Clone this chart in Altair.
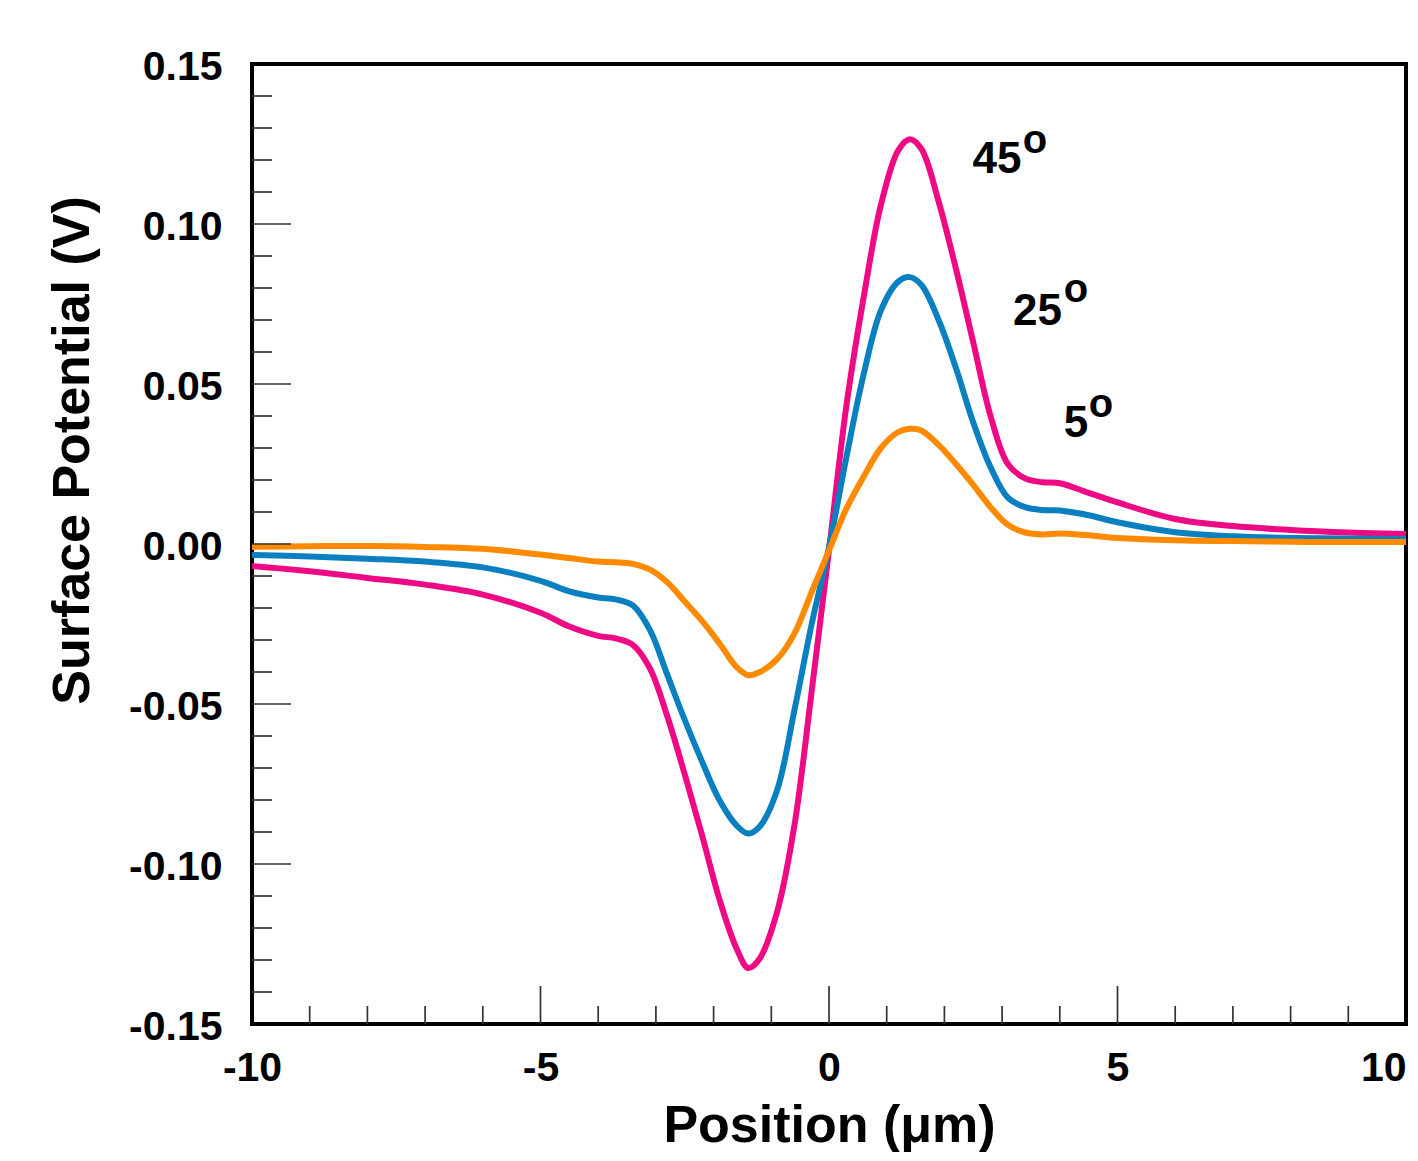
import altair as alt
import pandas as pd

# ---- data ----
xs = [-10, -9, -8, -7, -6, -5, -4.5, -4, -3.7, -3.4, -3.1, -2.8, -2.5, -2.2, -1.9, -1.6,
      -1.4, -1.2, -0.9, -0.6, -0.3, 0, 0.3, 0.6, 0.9, 1.2, 1.4, 1.6, 1.9, 2.2, 2.5, 2.8,
      3.1, 3.4, 3.7, 4.0, 4.5, 5, 6, 7, 8, 9, 10]

pink_45 = [-0.0069, -0.0085, -0.0106, -0.0127, -0.0158, -0.0215, -0.0258, -0.0287, -0.0295,
           -0.0315, -0.039, -0.054, -0.072, -0.091, -0.111, -0.1265, -0.1325, -0.1295, -0.115,
           -0.088, -0.046, -0.002, 0.043, 0.077, 0.106, 0.123, 0.1265, 0.1235, 0.107, 0.086,
           0.063, 0.040, 0.025, 0.0205, 0.0193, 0.019, 0.016, 0.013, 0.0078, 0.0056, 0.0044,
           0.0036, 0.0031]

blue_25 = [-0.0034, -0.0039, -0.0046, -0.0055, -0.0073, -0.0115, -0.0148, -0.0167, -0.0173,
           -0.0192, -0.027, -0.041, -0.055, -0.068, -0.080, -0.088, -0.0905, -0.0883, -0.077,
           -0.052, -0.025, -0.001, 0.027, 0.053, 0.073, 0.082, 0.0834, 0.081, 0.070, 0.055,
           0.038, 0.024, 0.0145, 0.0115, 0.0106, 0.0105, 0.009, 0.0068, 0.0037, 0.0024,
           0.0019, 0.0017, 0.0016]

orange_5 = [-0.0009, -0.0007, -0.0006, -0.0009, -0.0015, -0.0033, -0.0044, -0.0055, -0.0057,
            -0.0062, -0.008, -0.012, -0.018, -0.024, -0.031, -0.0385, -0.041, -0.0400, -0.036,
            -0.028, -0.015, -0.002, 0.011, 0.021, 0.030, 0.035, 0.036, 0.0355, 0.031, 0.025,
            0.0185, 0.0115, 0.0060, 0.0036, 0.0030, 0.0033, 0.0027, 0.0019, 0.0012, 0.0009,
            0.0007, 0.0006, 0.0006]

series_names = ["45°", "25°", "5°"]
series_colors = ["#EE0A84", "#0A80C0", "#FF8A00"]

label_text = ["45", "25", "5"]
label_x = [2.912, 3.614, 4.281]
label_y = [0.1158, 0.0684, 0.0335]
sup_text = ["o", "o", "o"]
sup_x = [3.570, 4.281, 4.714]
sup_y = [0.1221, 0.0757, 0.0398]

x_major_ticks = [-5, 0, 5]
x_minor_ticks = [-9, -8, -7, -6, -4, -3, -2, -1, 1, 2, 3, 4, 6, 7, 8, 9]
y_major_ticks = [-0.10, -0.05, 0.0, 0.05, 0.10]
y_minor_ticks = [-0.14, -0.13, -0.12, -0.11, -0.09, -0.08, -0.07, -0.06, -0.04, -0.03,
                 -0.02, -0.01, 0.01, 0.02, 0.03, 0.04, 0.06, 0.07, 0.08, 0.09, 0.11,
                 0.12, 0.13, 0.14]

x_label_values = [-10, -5, 0, 5, 10]
y_label_values = [-0.15, -0.10, -0.05, 0.0, 0.05, 0.10, 0.15]

# ---- tables ----
rows = []
for name, vals in zip(series_names, [pink_45, blue_25, orange_5]):
    for x, v in zip(xs, vals):
        rows.append({"x": x, "v": v, "series": name})
df = pd.DataFrame(rows)

lab_df = pd.DataFrame({"x": label_x, "v": label_y, "t": label_text})
sup_df = pd.DataFrame({"x": sup_x, "v": sup_y, "t": sup_text})

W, H = 1154, 960
FONT = "Liberation Sans"

xscale = alt.Scale(domain=[-10, 10], nice=False, zero=False)
yscale = alt.Scale(domain=[-0.15, 0.15], nice=False, zero=False)

x_axis = alt.Axis(values=x_label_values, ticks=False, domain=False, grid=False,
                  labelExpr="datum.value + ''", labelFontSize=41, labelFont=FONT,
                  labelFontWeight="bold", labelColor="black", labelPadding=24,
                  labelAlign={"condition": {"test": "datum.value >= 10", "value": "right"},
                              "value": "center"},
                  labelFlush=False, labelOverlap=False,
                  title="Position (μm)", titleFontSize=52, titleFont=FONT,
                  titleFontWeight="bold", titleColor="black",
                  titleBaseline="alphabetic", titleY=117)
y_axis = alt.Axis(values=y_label_values, ticks=False, domain=False, grid=False,
                  labelExpr="datum.value < -0.0001 ? '-' + format(-datum.value, '.2f') : format(abs(datum.value), '.2f')",
                  labelFontSize=41, labelFont=FONT, labelFontWeight="bold",
                  labelColor="black", labelPadding=30, labelOffset=3,
                  labelFlush=False, labelOverlap=False,
                  title="Surface Potential (V)", titleFontSize=52, titleFont=FONT,
                  titleFontWeight="bold", titleColor="black", titleAngle=-90,
                  titleBaseline="alphabetic", titleAlign="center",
                  titleX=-164, titleY=386)

lines = alt.Chart(df).mark_line(strokeWidth=6, interpolate="catmull-rom").encode(
    x=alt.X("x:Q", scale=xscale, axis=x_axis),
    y=alt.Y("v:Q", scale=yscale, axis=y_axis),
    color=alt.Color("series:N", scale=alt.Scale(domain=series_names, range=series_colors),
                    legend=None),
    detail="series:N",
)

tick_color = "#333333"

xmaj = alt.Chart(pd.DataFrame({"tx": x_major_ticks})).mark_rule(
    color=tick_color, strokeWidth=1.7).encode(
    x=alt.X("tx:Q", scale=xscale, axis=x_axis), y=alt.value(H), y2=alt.value(H - 38))
xmin = alt.Chart(pd.DataFrame({"tx": x_minor_ticks})).mark_rule(
    color=tick_color, strokeWidth=1.7).encode(
    x=alt.X("tx:Q", scale=xscale, axis=x_axis), y=alt.value(H), y2=alt.value(H - 18))
ymaj = alt.Chart(pd.DataFrame({"ty": y_major_ticks})).mark_rule(
    color=tick_color, strokeWidth=1.7).encode(
    y=alt.Y("ty:Q", scale=yscale, axis=y_axis), x=alt.value(0), x2=alt.value(39))
ymin = alt.Chart(pd.DataFrame({"ty": y_minor_ticks})).mark_rule(
    color=tick_color, strokeWidth=1.7).encode(
    y=alt.Y("ty:Q", scale=yscale, axis=y_axis), x=alt.value(0), x2=alt.value(20))

labels = alt.Chart(lab_df).mark_text(font=FONT, fontWeight="bold", fontSize=44,
                                     align="center", baseline="alphabetic",
                                     color="black").encode(
    x=alt.X("x:Q", scale=xscale, axis=x_axis), y=alt.Y("v:Q", scale=yscale, axis=y_axis),
    text="t:N")
sups = alt.Chart(sup_df).mark_text(font=FONT, fontWeight="bold", fontSize=40,
                                   align="center", baseline="alphabetic",
                                   color="black").encode(
    x=alt.X("x:Q", scale=xscale, axis=x_axis), y=alt.Y("v:Q", scale=yscale, axis=y_axis),
    text="t:N")

chart = alt.layer(lines, xmaj, xmin, ymaj, ymin, labels, sups).properties(
    width=W, height=H,
    background="white",
    autosize=alt.AutoSizeParams(type="none"),
    padding={"left": 244, "top": 56, "right": 4, "bottom": 128},
).configure_view(stroke="black", strokeWidth=4)

chart.save("out.html", embed_options={"renderer": "svg", "actions": False})
